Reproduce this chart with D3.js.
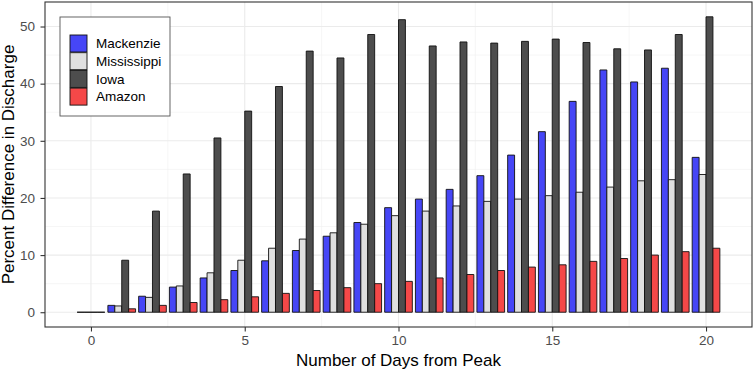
<!DOCTYPE html>
<html>
<head>
<meta charset="UTF-8" />
<script src="https://d3js.org/d3.v7.min.js"></script>
<style>
  body { margin: 0; padding: 0; background: #fff; }
  svg { font-family: "Liberation Sans", Arial, sans-serif; }
</style>
</head>
<body>
<svg width="754" height="370"></svg>
<script>
  // days from peak, one group of bars each
  const days = d3.range(0, 21);
  const rivers = ["Mackenzie", "Mississippi", "Iowa", "Amazon"];

  const mackenzie = [0, 1.2, 2.8, 4.4, 6.0, 7.3, 9.0, 10.8, 13.3, 15.7, 18.3, 19.8, 21.5, 23.9, 27.5, 31.6, 36.9, 42.4, 40.3, 42.7, 27.1];
  const mississippi = [0, 1.1, 2.6, 4.6, 6.9, 9.1, 11.2, 12.8, 13.9, 15.4, 16.9, 17.7, 18.6, 19.4, 19.8, 20.4, 21.0, 21.9, 23.0, 23.2, 24.1];
  const iowa = [0, 9.1, 17.7, 24.2, 30.5, 35.2, 39.5, 45.7, 44.5, 48.6, 51.2, 46.6, 47.3, 47.1, 47.4, 47.8, 47.2, 46.1, 45.9, 48.6, 51.7];
  const amazon = [0, 0.6, 1.2, 1.7, 2.2, 2.7, 3.3, 3.8, 4.3, 5.0, 5.4, 6.0, 6.6, 7.3, 7.9, 8.3, 8.9, 9.4, 10.0, 10.6, 11.2];

  const colors = ["#4646f6", "#e0e0e0", "#4d4d4d", "#f54848"];

  const seriesValues = [mackenzie, mississippi, iowa, amazon];

  const svg = d3.select("svg");
  const margin = { top: 2, right: 2, bottom: 43, left: 45 };
  const width = 754, height = 370;

  const x = d3.scaleLinear()
    .domain([-1.495, 21.495])
    .range([margin.left, width - margin.right]);

  const y = d3.scaleLinear()
    .domain([-2.585, 54.29])
    .range([height - margin.bottom, margin.top]);

  // gridlines (minor then major)
  const grid = svg.append("g");
  const yMinor = [5, 15, 25, 35, 45];
  const xMinor = [2.5, 7.5, 12.5, 17.5];
  grid.selectAll(".ym").data(yMinor).join("line")
    .attr("x1", margin.left).attr("x2", width - margin.right)
    .attr("y1", d => y(d)).attr("y2", d => y(d))
    .attr("stroke", "#f0f0f0").attr("stroke-width", 0.6);
  grid.selectAll(".xm").data(xMinor).join("line")
    .attr("y1", margin.top).attr("y2", height - margin.bottom)
    .attr("x1", d => x(d)).attr("x2", d => x(d))
    .attr("stroke", "#f0f0f0").attr("stroke-width", 0.6);
  grid.selectAll(".yM").data(d3.range(0, 51, 10)).join("line")
    .attr("x1", margin.left).attr("x2", width - margin.right)
    .attr("y1", d => y(d)).attr("y2", d => y(d))
    .attr("stroke", "#ebebeb").attr("stroke-width", 1.1);
  grid.selectAll(".xM").data(d3.range(0, 21, 5)).join("line")
    .attr("y1", margin.top).attr("y2", height - margin.bottom)
    .attr("x1", d => x(d)).attr("x2", d => x(d))
    .attr("stroke", "#ebebeb").attr("stroke-width", 1.1);

  // dodged bars
  const inner = d3.scaleBand()
    .domain(rivers)
    .range([0, x(0.9) - x(0)]);

  const bars = svg.append("g");
  rivers.forEach((r, i) => {
    bars.selectAll(null).data(days).join("path")
      .attr("d", d => {
        const x0 = x(d - 0.45) + inner(r);
        const y0 = y(0), y1 = y(seriesValues[i][d]);
        return `M${x0},${y0}V${y1}H${x0 + inner.bandwidth()}V${y0}Z`;
      })
      .attr("fill", colors[i])
      .attr("stroke", "#111")
      .attr("stroke-width", 0.9);
  });

  // panel border
  svg.append("rect")
    .attr("x", margin.left).attr("y", margin.top)
    .attr("width", width - margin.left - margin.right)
    .attr("height", height - margin.top - margin.bottom)
    .attr("fill", "none").attr("stroke", "#333").attr("stroke-width", 1.1);

  // axes
  const xAxis = svg.append("g")
    .attr("transform", `translate(0,${height - margin.bottom})`)
    .call(d3.axisBottom(x).tickValues(d3.range(0, 21, 5)).tickSize(4.5).tickPadding(4));
  const yAxis = svg.append("g")
    .attr("transform", `translate(${margin.left},0)`)
    .call(d3.axisLeft(y).tickValues(d3.range(0, 51, 10)).tickSize(4.5).tickPadding(5.5));
  [xAxis, yAxis].forEach(a => {
    a.select(".domain").remove();
    a.selectAll("line").attr("stroke", "#333").attr("stroke-width", 1.1);
    a.selectAll("text").attr("fill", "#4d4d4d").attr("font-size", 13.5)
      .style("font-family", "'Liberation Sans', Arial, sans-serif");
  });

  // axis titles
  svg.append("text")
    .attr("x", (margin.left + width - margin.right) / 2)
    .attr("y", 365.5)
    .attr("text-anchor", "middle")
    .attr("font-size", 17)
    .attr("fill", "#000")
    .text("Number of Days from Peak");
  svg.append("text")
    .attr("transform", `translate(14,${(margin.top + height - margin.bottom) / 2}) rotate(-90)`)
    .attr("text-anchor", "middle")
    .attr("font-size", 17)
    .attr("fill", "#000")
    .text("Percent Difference in Discharge");

  // legend
  const legend = svg.append("g").attr("transform", "translate(60,17)");
  legend.append("rect")
    .attr("width", 110).attr("height", 99)
    .attr("fill", "#fff").attr("stroke", "#555").attr("stroke-width", 0.9);
  rivers.forEach((r, i) => {
    const ky = 18 + i * 17.7;
    legend.append("rect")
      .attr("x", 10).attr("y", ky)
      .attr("width", 17).attr("height", 17)
      .attr("fill", colors[i]).attr("stroke", "#111").attr("stroke-width", 0.9);
    legend.append("text")
      .attr("x", 36).attr("y", ky + 13.3)
      .attr("font-size", 13.5)
      .attr("fill", "#000")
      .text(r);
  });
</script>
</body>
</html>
